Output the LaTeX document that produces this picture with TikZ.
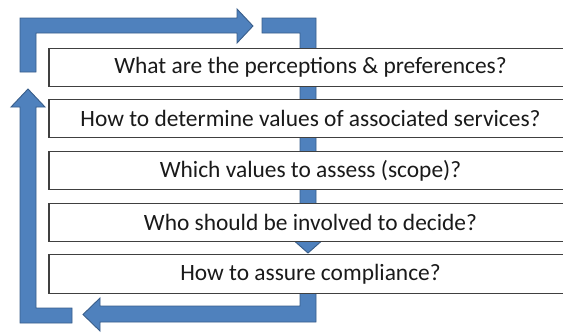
\documentclass[tikz,border=0pt]{standalone}
\usepackage{fontspec}
\setmainfont{Carlito}
\definecolor{flowblue}{HTML}{4F81BD}
\definecolor{flowedge}{HTML}{385D8A}
\definecolor{boxedge}{HTML}{404040}
\definecolor{qtext}{HTML}{1A1A1A}
\begin{document}
\begin{tikzpicture}[x=1pt,y=-1pt,
  flowarrow/.style={fill=flowblue,draw=flowedge,line width=0.9pt,line join=miter},
  qbox/.style={draw=boxedge,fill=white,line width=1.1pt,minimum width=523pt,
    minimum height=38.5pt,inner sep=0pt,text=qtext,font=\fontsize{23.4}{27}\selectfont}]
\useasboundingbox (0,0) rectangle (563,333);

% cycle of bent block arrows behind the question boxes
\draw[flowarrow] (20,72) -- (20,18) -- (237,18) -- (237,9) -- (253,26)
  -- (237,43) -- (237,33) -- (36,33) -- (36,72) -- cycle;
\draw[flowarrow] (262,18) -- (316,18) -- (316,238) -- (325,238) -- (308,253)
  -- (291,238) -- (300,238) -- (300,33) -- (262,33) -- cycle;
\draw[flowarrow] (300,280) -- (316,280) -- (316,322) -- (100,322) -- (100,331)
  -- (83,314.5) -- (100,298) -- (100,306) -- (300,306) -- cycle;
\draw[flowarrow] (72,308) -- (72,323) -- (20,323) -- (20,107) -- (11,107)
  -- (28,89) -- (45,107) -- (36,107) -- (36,308) -- cycle;

% question boxes
\node[qbox] (q1) at (310.5,67.5)  {What are the perceptions \& preferences?};
\node[qbox] (q2) at (310.5,118.5) {How to determine values of associated services?};
\node[qbox] (q3) at (310.5,170.5) {Which values to assess (scope)?};
\node[qbox] (q4) at (310.5,222.5) {Who should be involved to decide?};
\node[qbox] (q5) at (310.5,274)   {How to assure compliance?};
\end{tikzpicture}
\end{document}
